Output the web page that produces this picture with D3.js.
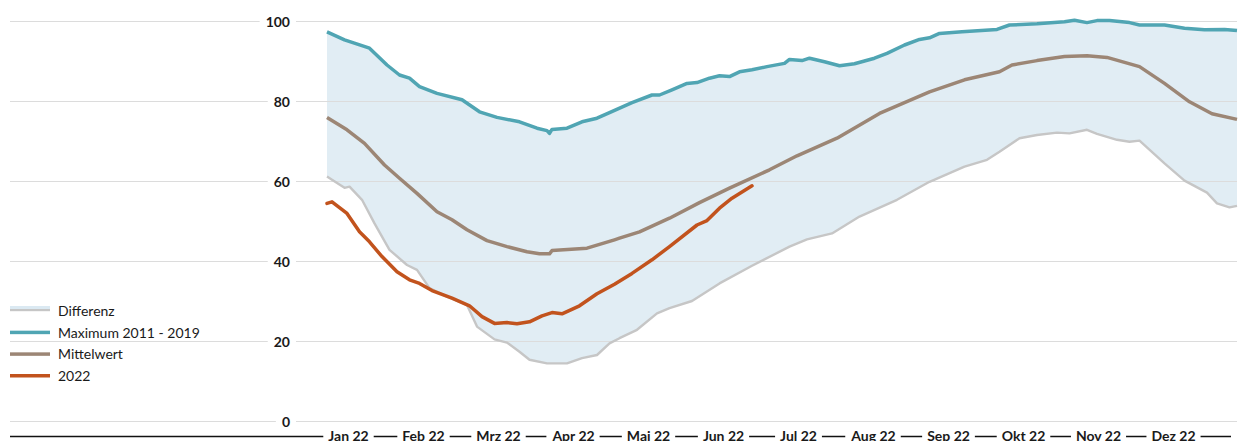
<!DOCTYPE html>
<html><head><meta charset="utf-8">
<script src="https://cdn.jsdelivr.net/npm/d3@7"></script>
<style>
html,body{margin:0;padding:0;background:#fff;}
svg{display:block;font-family:Lato,"Open Sans",sans-serif;}
</style></head>
<body>
<svg id="chart" width="1242" height="441"></svg>
<script>
// ---- data (day of year 2022, value in %) ----
const maxDays = [0,7,17,24,29,33,37,44,54,61,68,77,84,88,89,90,96,102,108,113,122,130,133,138,144,148,153,157,161,165,170,176,183,185,190,193,199,205,211,219,224,231,237,241,245,254,268,273,284,295,299,304,308,313,321,325,335,343,351,359,364];
const maxVals = [97.3,95.3,93.2,89,86.5,85.7,83.6,81.9,80.3,77.3,75.9,74.8,73.2,72.6,71.9,72.9,73.2,74.8,75.7,77.1,79.6,81.5,81.5,82.8,84.4,84.6,85.7,86.3,86.1,87.3,87.8,88.6,89.4,90.4,90.1,90.7,89.8,88.8,89.3,90.7,91.9,94,95.4,95.8,96.9,97.3,97.9,99,99.3,99.8,100.2,99.6,100.1,100.1,99.6,99,99,98.2,97.8,97.9,97.6];

const minDays = [0,2,7,9,14,19,25,32,36,41,48,56,60,67,72,77,81,88,96,102,108,113,117,124,132,137,146,157,170,185,192,202,213,228,241,255,264,269,277,284,292,297,304,308,316,321,325,335,343,352,356,361,364];
const minVals = [61.1,60.3,58.3,58.6,55.3,49.4,42.8,39,37.8,33.2,31.1,29,23.6,20.4,19.6,17.3,15.3,14.4,14.4,15.7,16.5,19.4,20.7,22.8,26.9,28.2,30,34.4,38.8,43.6,45.4,46.9,51.1,55.3,59.8,63.6,65.3,67.3,70.7,71.5,72.1,71.9,72.8,71.8,70.3,69.8,70.1,64.4,60.1,57.1,54.4,53.4,53.8];

const meanDays = [0,8,15,23,29,36,44,50,56,64,72,80,85,89,90,104,115,117,125,137,149,161,177,188,204,221,241,255,269,274,284,295,304,312,325,335,345,354,364];
const meanVals = [75.9,72.8,69.4,64,60.7,56.9,52.3,50.3,47.8,45.1,43.6,42.3,41.8,41.8,42.6,43.2,45.3,45.7,47.3,50.7,54.6,58.2,62.8,66.3,70.7,76.9,82.3,85.3,87.3,89,90.1,91.1,91.3,90.9,88.6,84.4,79.8,76.8,75.4];

const y2022Days = [0,2,8,13,17,22,28,33,37,42,50,57,62,67,72,76,81,86,90,94,101,108,115,122,130,137,148,152,157,162,170];
const y2022Vals = [54.4,54.8,51.9,47.3,44.8,41.1,37.3,35.3,34.4,32.6,30.7,28.8,26.1,24.4,24.6,24.3,24.8,26.3,27.1,26.8,28.8,31.8,34.2,36.9,40.3,43.6,49,50.1,53.2,55.7,58.8];

const monthLabels = ["Jan 22","Feb 22","Mrz 22","Apr 22","Mai 22","Jun 22","Jul 22","Aug 22","Sep 22","Okt 22","Nov 22","Dez 22"];
const yTicks = [0,20,40,60,80,100];
const legendLabels = ["Differenz","Maximum 2011 - 2019","Mittelwert","2022"];

// ---- drawing ----
const svg = d3.select("#chart");
const day0 = new Date(2022,0,1);
const toDate = d => d3.timeDay.offset(day0, d);
const x = d3.scaleTime().domain([day0, new Date(2022,11,31)]).range([327,1237]);
const y = d3.scaleLinear().domain([0,100]).range([421,21]);
const xm = d3.scalePoint().domain(monthLabels).range([348,1173]);

const zip = (ds, vs) => ds.map((d,i)=>({date:toDate(d), v:vs[i]}));
const maxData = zip(maxDays,maxVals);
const minData = zip(minDays,minVals);
const meanData = zip(meanDays,meanVals);
const data22 = zip(y2022Days,y2022Vals);

const bandTop = maxData.map(p=>[x(p.date), y(p.v)]);
const bandBot = minData.map(p=>[x(p.date), y(p.v)]).reverse();
const line = d3.line().x(d=>x(d.date)).y(d=>y(d.v)).curve(d3.curveLinear);

svg.append("path")
  .attr("d", "M" + bandTop.concat(bandBot).map(p=>p.join(",")).join("L") + "Z")
  .attr("fill","#c3dbe9").attr("fill-opacity",0.5);

// y grid + labels
const gy = svg.append("g").attr("transform","translate(10,0)")
  .call(d3.axisLeft(y).tickValues(yTicks).tickSize(-1227).tickFormat(d3.format("d")));
gy.select(".domain").remove();
gy.selectAll(".tick line").attr("stroke","#dcdcdc").attr("stroke-width",1.2);
gy.selectAll(".tick text")
  .attr("x",280).attr("text-anchor","end").attr("dy","0.36em")
  .attr("font-size",14).attr("font-weight",700).attr("fill","#1a1a1a")
  .attr("font-family","Lato, sans-serif");
gy.selectAll(".tick").each(function(){
  const t = d3.select(this).select("text");
  const b = t.node().getBBox();
  d3.select(this).insert("rect","text")
    .attr("x",b.x-6).attr("y",b.y).attr("width",b.width+12).attr("height",b.height)
    .attr("fill","#fff");
});

// lines
svg.append("path").datum(minData).attr("d",line)
  .attr("fill","none").attr("stroke","#c6c6c6").attr("stroke-width",2.4).attr("stroke-linejoin","round");
svg.append("path").datum(maxData).attr("d",line)
  .attr("fill","none").attr("stroke","#50a5b3").attr("stroke-width",3.5).attr("stroke-linejoin","round");
svg.append("path").datum(meanData).attr("d",line)
  .attr("fill","none").attr("stroke","#9c8675").attr("stroke-width",3.5).attr("stroke-linejoin","round");
svg.append("path").datum(data22).attr("d",line)
  .attr("fill","none").attr("stroke","#c2531d").attr("stroke-width",3.5).attr("stroke-linejoin","round").attr("stroke-linecap","round");

// x axis: black baseline + month labels on white boxes
svg.append("line").attr("x1",10).attr("x2",1231).attr("y1",436.5).attr("y2",436.5)
  .attr("stroke","#111").attr("stroke-width",1.3);
const gx = svg.append("g").attr("transform","translate(0,441)")
  .call(d3.axisBottom(xm).tickSize(0).tickPadding(0));
gx.select(".domain").remove();
gx.selectAll(".tick text")
  .attr("y",0).attr("dy",0)
  .attr("font-size",14).attr("font-weight",700).attr("fill","#1a1a1a")
  .attr("font-family","Lato, sans-serif");
gx.selectAll(".tick").each(function(){
  const t = d3.select(this).select("text");
  const b = t.node().getBBox();
  d3.select(this).insert("rect","text")
    .attr("x",b.x-5).attr("y",b.y-2).attr("width",b.width+10).attr("height",b.height+4)
    .attr("fill","#fff");
});

// legend
const lg = svg.append("g");
const ly = d3.scalePoint().domain(legendLabels).range([311,376]);
legendLabels.forEach((lab,i)=>{
  const cy = ly(lab);
  if(i===0){
    lg.append("rect").attr("x",10).attr("y",cy-5).attr("width",40).attr("height",3).attr("fill","#dbe9f2");
    lg.append("rect").attr("x",10).attr("y",cy-2).attr("width",40).attr("height",2.2).attr("fill","#c6c6c6");
  } else {
    const col = ["","#50a5b3","#9c8675","#c2531d"][i];
    lg.append("rect").attr("x",10).attr("y",cy-2).attr("width",40).attr("height",3.5).attr("fill",col);
  }
  lg.append("text").attr("x",58).attr("y",cy).attr("dy","0.36em")
    .attr("font-size",14).attr("fill","#1a1a1a").text(lab);
});
</script>
</body></html>
